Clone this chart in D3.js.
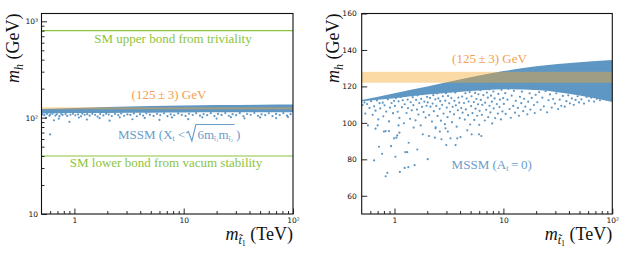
<!DOCTYPE html>
<html>
<head>
<meta charset="utf-8">
<script src="https://cdn.jsdelivr.net/npm/d3@7"></script>
<style>
  body { margin: 0; background: #fff; }
  svg { display: block; }
  text { font-family: "Liberation Serif", "Times New Roman", serif; }
  .tick text { font-family: "DejaVu Sans", sans-serif; font-size: 7.5px; fill: #111; }
</style>
</head>
<body>
<div id="container"></div>
<script>
/** DATA */
// stop mass grid (TeV) for the band edges
const xGrid = [0.5, 1, 2, 5, 10, 20, 50, 100];

// left panel: MSSM band (X_t < sqrt(6 m1 m2)), GeV
const leftUpper = [123, 126, 129, 132, 134, 135.5, 136.5, 137];
const leftLower = [110.5, 111.5, 112, 112.5, 113, 113.5, 114, 114];
const leftPoints = [
  [0.51,108.2],[0.53,106.1],[0.56,109.4],[0.59,104.7],[0.6,107.6],[0.63,109.9],[0.67,105.2],[0.69,108.4],
  [0.73,103.6],[0.76,109.1],[0.78,106.5],[0.83,108.8],[0.86,104.1],[0.92,107.2],[0.97,109.6],[1.02,105.8],
  [1.08,108.3],[1.15,103.2],[1.18,110.2],[1.24,106.9],[1.31,108.7],[1.38,104.9],[1.46,109.5],[1.55,107.1],
  [1.63,102.6],[1.72,108.9],[1.84,105.4],[1.95,110.1],[2.06,107.6],[2.2,103.9],[2.35,109.2],[2.52,106.2],
  [2.68,110.4],[2.85,104.6],[3.05,108.1],[3.25,106.7],[3.5,110.6],[3.72,103.4],[3.98,108.6],[4.25,105.1],
  [4.55,110.9],[4.9,107.4],[5.3,104.2],[5.7,109.6],[6.1,106.3],[6.6,111.1],[7.1,103.7],[7.6,108.4],
  [8.2,105.9],[8.9,110.7],[9.6,107.1],[10.4,104.3],[11.2,109.8],[12.1,106.6],[13,111.2],[14.1,104.8],
  [15.2,108.9],[16.4,106.1],[17.7,111.4],[19.1,103.9],[20.6,109.3],[22.2,106.8],[24,111.6],[25.9,104.6],
  [28,108.7],[30.2,106.2],[32.6,111.3],[35.2,103.7],[38,109.1],[41,106.9],[44.3,111.7],[47.8,104.4],
  [51.6,108.3],[55.7,106.1],[60.1,111.1],[64.9,103.8],[70,109.2],[75.6,106.5],[81.6,111.5],[88.1,104.9],[95,108.6],
  // sparse points
  [0.55,99.5],[0.6,66.9],[0.65,94],[0.72,97.5],[0.9,90.5],[1.1,100.2],[1.3,95.5],[1.7,98.8],
  [2.1,93],[2.6,100.8],[3.4,96.2],[4.4,99.3],[6,94.6],[7.8,100.5],[11,96.5],[14.8,100.9],
  [20,97.8],[27,101.2],[36,98.4],[50,100.6],[70,99.1],[90,101.5]
];
const smUpper = 800;
const smLower = 40;

// right panel: MSSM band (A_t = 0), GeV
const rightUpper = [112.5, 116.3, 120, 125, 128.4, 131, 133.3, 134.5];
const rightLower = [111.8, 113.5, 115.5, 117.5, 118.5, 118, 115, 111.5];
const rightPoints = [
  [0.51,109.8],[0.53,111.2],[0.54,105.1],[0.56,110.3],[0.59,108.2],[0.61,111.9],[0.63,104.4],[0.65,109.1],
  [0.67,106.7],[0.69,112.3],[0.71,101.9],[0.73,110.8],[0.74,107.9],[0.78,111.1],[0.79,103.6],[0.81,109.6],
  [0.84,106.2],[0.87,112.9],[0.89,100.8],[0.91,108.4],[0.94,110.9],[0.97,105.3],[0.99,112.1],
  [1.01,109.3],[1.03,113.6],[1.07,106.1],[1.09,111.8],[1.11,102.7],[1.14,114.2],[1.17,108.6],[1.19,112.4],
  [1.22,99.8],[1.24,110.2],[1.26,114.9],[1.29,105.4],[1.32,112.8],[1.33,108.1],[1.36,115.3],[1.39,102.2],
  [1.41,111.3],[1.44,106.9],[1.47,114.1],[1.49,109.7],[1.53,116.2],[1.56,101.4],[1.58,112.6],[1.61,107.3],
  [1.63,115.1],[1.66,104.6],[1.69,110.9],[1.71,116.7],[1.74,98.6],[1.76,113.2],[1.79,108.8],[1.83,115.8],
  [1.85,105.9],[1.88,111.6],[1.91,117.1],[1.93,102.9],[1.97,109.4],[1.99,114.3],
  [2.02,111.2],[2.06,116.8],[2.08,104.3],[2.12,113.7],[2.14,108.9],[2.18,117.6],[2.21,100.7],[2.24,110.6],
  [2.27,115.2],[2.3,106.4],[2.34,118.1],[2.37,112.9],[2.39,97.6],[2.42,109.3],[2.46,116.1],[2.49,103.8],
  [2.53,113.4],[2.55,118.6],[2.6,107.7],[2.63,111.9],[2.67,101.2],[2.7,116.9],[2.74,109.9],[2.78,114.6],
  [2.82,105.1],[2.85,118.9],[2.9,99.3],[2.93,112.2],[2.97,116.3],[3.02,108.4],[3.07,103.1],[3.1,114.8],
  [3.15,119.3],[3.18,110.7],[3.24,106.1],[3.28,117.2],[3.33,113.6],[3.37,100.4],[3.42,108.8],[3.46,118.4],
  [3.52,104.7],[3.55,112.1],[3.62,116.6],[3.66,109.6],[3.72,97.9],[3.76,119.1],[3.82,106.9],[3.86,113.9],
  [3.93,111.1],[3.97,102.6],[4.05,117.8],[4.1,108.1],[4.18,114.4],[4.22,105.6],[4.28,119.6],[4.35,110.9],
  [4.42,101.8],[4.48,116.2],[4.52,107.4],[4.6,113.3],[4.65,118.7],[4.75,104.2],[4.8,111.7],[4.9,116.9],[4.95,99.1],
  [5.05,109.2],[5.1,114.6],[5.2,105.3],[5.25,118.9],[5.35,111.4],[5.4,101.6],[5.5,116.4],[5.55,107.8],
  [5.65,113.1],[5.7,119.4],[5.75,103.9],[5.85,110.2],[5.9,115.7],[6.0,98.9],[6.05,106.6],[6.15,117.9],
  [6.2,112.6],[6.35,104.4],[6.4,109.9],[6.55,115.2],[6.6,119.7],[6.75,101.3],[6.8,111.1],[6.95,107.2],
  [7.05,116.6],[7.2,113.8],[7.25,103.2],[7.4,118.4],[7.45,109.4],[7.6,105.7],[7.7,114.9],[7.85,111.6],
  [7.9,99.7],[8.1,117.2],[8.15,107.9],[8.3,113.4],[8.4,102.6],[8.6,119.2],[8.7,110.3],[8.9,105.1],
  [9.0,115.9],[9.2,108.7],[9.3,112.8],[9.5,101.9],[9.6,118.1],[9.8,106.3],[9.95,113.6],
  [10.1,110.4],[10.4,116.3],[10.5,104.9],[10.9,112.7],[11.1,118.7],[11.4,107.6],[11.7,102.8],[11.9,114.9],
  [12.3,109.3],[12.5,117.6],[12.8,105.6],[13.0,112.1],[13.4,119.1],[13.6,108.2],[13.9,103.9],[14.2,114.3],
  [14.6,110.8],[14.8,117.1],[15.2,106.4],[15.5,113.2],[15.9,108.9],[16.2,119.4],[16.6,104.7],[16.9,111.6],
  [17.4,116.2],[17.7,107.3],[18.2,113.7],[18.5,118.6],[19.1,109.8],[19.4,105.4],[19.8,115.4],
  [20.5,111.3],[21.3,116.9],[22,107.2],[22.8,113.8],[23.5,109.1],[24.4,117.4],[25.2,105.8],[26,112.4],
  [26.8,115.6],[27.8,108.4],[28.6,113.1],[29.7,110.6],[30.6,116.2],[31.8,107.6],[32.9,112.7],[34,109.4],
  [35.2,114.8],[36.6,108.9],[37.9,111.9],[39.4,115.1],[40.8,110.7],[42.5,113.4],[44.3,109.9],[46,112.6],
  [48,114.6],[49.5,111.2],
  [52,112.9],[55,110.6],[58,114.2],[61,112.1],[64,113.8],[68,111.7],[72,113.2],[77,112.4],
  // sparse points below the cloud
  [0.57,98.6],[0.67,96.8],[0.70,98.6],[0.83,95.5],[1.09,98.6],[1.5,97.4],[1.82,93.7],[2.07,92.8],
  [2.38,97],[2.61,95.2],[2.35,91.9],[2.7,91],[2.94,97],[3.09,95.2],[3.27,91.5],[3.77,91.5],
  [4.04,92.2],[2.99,87.8],[3.64,87.8],[4.66,95.9],[5.11,93.7],[5.97,93.7],[6.27,92.8],[1.04,91.9],
  [1.06,93.1],[0.99,91.5],[0.72,86.9],[0.77,83],[0.93,87.2],[1.02,81.4],[1.35,89.1],[1.26,83.9],
  [1.31,83.9],[1.62,85.4],[0.65,79.4],[2.02,80.1],[1.53,76.8],[1.34,75.7],[1.24,75.3],[1.12,73.1],
  [0.86,72.6],[0.83,70.7],[0.89,95.5],[0.8,95.2],[1.11,94.6]
];

// measured Higgs mass window, GeV
const higgsBand = [122, 128];

/** CONSTANTS */
const width = 638, height = 255;
const blue = "#5f97c4";
const orange = "rgb(248,166,40)";
const green = "#8cc43c";
const mssmBlue = "#6a9ccb";
const labelOrange = "#f5a04e";

const svg = d3.select("#container").append("svg")
  .attr("width", width)
  .attr("height", height);

/** PANEL HELPER */
function panel(opt) {
  const { x, y, id } = opt;
  const [x0, x1] = x.range();
  const [y1, y0] = y.range();
  const g = svg.append("g");

  g.append("clipPath").attr("id", id)
    .append("rect").attr("x", x0).attr("y", y0).attr("width", x1 - x0).attr("height", y1 - y0);
  const plot = g.append("g").attr("clip-path", `url(#${id})`);

  // dense part of the scan
  const area = d3.area()
    .x((d, i) => x(xGrid[i]))
    .y0((d, i) => y(opt.lower[i]))
    .y1(d => y(d))
    .curve(d3.curveMonotoneX);
  plot.append("path").datum(opt.upper).attr("d", area).attr("fill", blue);

  plot.append("g").selectAll("circle")
    .data(opt.points)
    .join("circle")
    .attr("cx", d => x(d[0]))
    .attr("cy", d => y(d[1]))
    .attr("r", 1.1)
    .attr("fill", blue);

  // 125 +- 3 band
  plot.append("rect")
    .attr("x", x0).attr("width", x1 - x0)
    .attr("y", y(higgsBand[1]))
    .attr("height", y(higgsBand[0]) - y(higgsBand[1]))
    .attr("fill", orange)
    .attr("fill-opacity", 0.42);

  (opt.hlines || []).forEach(v => {
    plot.append("line")
      .attr("x1", x0).attr("x2", x1)
      .attr("y1", y(v)).attr("y2", y(v))
      .attr("stroke", green).attr("stroke-width", 1.2);
  });

  // axes, ticks pointing inwards
  const xMajor = [1, 10, 100];
  const xMinor = [0.6, 0.7, 0.8, 0.9, 2, 3, 4, 5, 6, 7, 8, 9, 20, 30, 40, 50, 60, 70, 80, 90];
  const xFmt = d => d === 100 ? "10\u00b2" : String(d);

  g.append("g").attr("transform", `translate(0,${y1})`)
    .call(d3.axisBottom(x).tickValues(xMinor).tickSize(-3).tickFormat(""))
    .call(a => a.select(".domain").remove());
  g.append("g").attr("transform", `translate(0,${y1})`)
    .call(d3.axisBottom(x).tickValues(xMajor).tickSize(-5.5).tickPadding(3.5).tickFormat(xFmt))
    .call(a => a.select(".domain").remove());

  if (opt.yMinor) {
    g.append("g").attr("transform", `translate(${x0},0)`)
      .call(d3.axisLeft(y).tickValues(opt.yMinor).tickSize(-3).tickFormat(""))
      .call(a => a.select(".domain").remove());
  }
  g.append("g").attr("transform", `translate(${x0},0)`)
    .call(d3.axisLeft(y).tickValues(opt.yMajor).tickSize(-5.5).tickPadding(opt.yPad).tickFormat(opt.yFmt))
    .call(a => a.select(".domain").remove());

  g.selectAll(".tick line").attr("stroke", "#111").attr("stroke-width", 0.9);

  g.append("rect")
    .attr("x", x0).attr("y", y0).attr("width", x1 - x0).attr("height", y1 - y0)
    .attr("fill", "none").attr("stroke", "#111").attr("stroke-width", 1.1);

  // y label: m_h (GeV)
  const yl = g.append("text")
    .attr("transform", `translate(${opt.yLabelX},83) rotate(-90)`)
    .attr("font-size", 18).attr("fill", "#111");
  yl.append("tspan").attr("font-style", "italic").text("m");
  yl.append("tspan").attr("font-style", "italic").attr("font-size", 12).attr("dy", 4).text("h");
  yl.append("tspan").attr("dy", -4).text(" (GeV)");

  // x label: m_t1 (TeV)
  const xl = g.append("text")
    .attr("x", x1).attr("y", 240)
    .attr("text-anchor", "end")
    .attr("font-size", 18).attr("fill", "#111");
  xl.append("tspan").attr("font-style", "italic").text("m");
  xl.append("tspan").attr("font-style", "italic").attr("font-size", 12).attr("dy", 4).text("t\u0303");
  xl.append("tspan").attr("font-size", 8).attr("dy", 2).text("1");
  xl.append("tspan").attr("dy", -6).text(" (TeV)");

  return g;
}

/** LEFT PANEL */
const xL = d3.scaleLog().domain([0.5, 100]).range([41.5, 293]);
const yL = d3.scaleLog().domain([10, 1205]).range([214, 13.5]);
const yLMinor = [20, 30, 40, 50, 60, 70, 80, 90, 200, 300, 400, 500, 600, 700, 800, 900];

const gL = panel({
  id: "clipL", x: xL, y: yL,
  upper: leftUpper, lower: leftLower, points: leftPoints,
  hlines: [smUpper, smLower],
  yMajor: [10, 100, 1000], yMinor: yLMinor, yPad: 3.5,
  yFmt: d => d === 10 ? "10" : d === 100 ? "10\u00b2" : "10\u00b3",
  yLabelX: 19
});

gL.append("text").attr("x", 173).attr("y", 43).attr("text-anchor", "middle")
  .attr("font-size", 13).attr("fill", green).text("SM upper bond from triviality");
gL.append("text").attr("x", 169).attr("y", 99).attr("text-anchor", "middle")
  .attr("font-size", 13).attr("fill", labelOrange).text("(125\u2009\u00b1\u20093) GeV");
gL.append("text").attr("x", 166).attr("y", 166.5).attr("text-anchor", "middle")
  .attr("font-size", 13).attr("fill", green).text("SM lower bond from vacum stability");

// MSSM (X_t < sqrt(6 m1 m2)), radical drawn as a path
const base = 139;
const t1 = gL.append("text").attr("x", 118).attr("y", base)
  .attr("font-size", 13).attr("fill", mssmBlue);
t1.append("tspan").text("MSSM (X");
t1.append("tspan").attr("font-size", 8).attr("dy", 2).text("t");
t1.append("tspan").attr("dy", -2).text(" < ");
const b1 = t1.node().getBBox();
const rx = b1.x + b1.width;

const t2 = gL.append("text").attr("x", rx + 12).attr("y", base)
  .attr("font-size", 13).attr("fill", mssmBlue);
t2.append("tspan").text("6m");
t2.append("tspan").attr("font-size", 7).attr("dy", 2).text("t\u0303");
t2.append("tspan").attr("font-size", 5).attr("dy", 1).text("1");
t2.append("tspan").attr("dy", -3).text("m");
t2.append("tspan").attr("font-size", 7).attr("dy", 2).text("t\u0303");
t2.append("tspan").attr("font-size", 5).attr("dy", 1).text("2");
const b2 = t2.node().getBBox();
const rEnd = b2.x + b2.width + 1;

gL.append("text").attr("x", rEnd + 1.5).attr("y", base)
  .attr("font-size", 13).attr("fill", mssmBlue).text(")");
gL.append("path")
  .attr("d", `M${rx + 1},${base - 6} L${rx + 3},${base - 7.5} L${rx + 6.5},${base + 2} L${rx + 10.5},${base - 14.5} L${rEnd},${base - 14.5}`)
  .attr("fill", "none").attr("stroke", mssmBlue).attr("stroke-width", 1.1);

/** RIGHT PANEL */
const xR = d3.scaleLog().domain([0.5, 100]).range([361.7, 612.3]);
const yR = d3.scaleLinear().domain([50, 160]).range([214, 13.5]);

const gR = panel({
  id: "clipR", x: xR, y: yR,
  upper: rightUpper, lower: rightLower, points: rightPoints,
  yMajor: [60, 80, 100, 120, 140, 160], yPad: 5,
  yFmt: d3.format("d"),
  yLabelX: 339
});

gR.append("text").attr("x", 489.5).attr("y", 63).attr("text-anchor", "middle")
  .attr("font-size", 13).attr("fill", labelOrange).text("(125\u2009\u00b1\u20093) GeV");
const t3 = gR.append("text").attr("x", 491.7).attr("y", 169).attr("text-anchor", "middle")
  .attr("font-size", 13).attr("fill", mssmBlue);
t3.append("tspan").text("MSSM (A");
t3.append("tspan").attr("font-size", 8).attr("dy", 2).text("t");
t3.append("tspan").attr("dy", -2).text("\u2009=\u20090)");
</script>
</body>
</html>
